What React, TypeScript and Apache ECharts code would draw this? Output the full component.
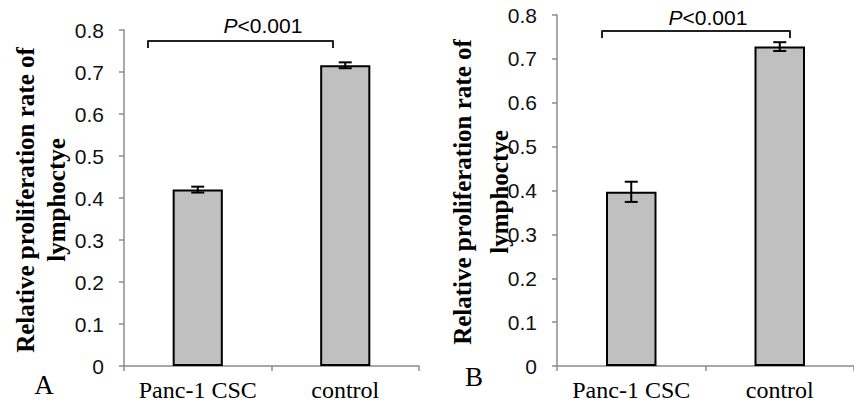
import React, { useEffect, useRef } from 'react';
import * as echarts from 'echarts';

const categories = ['Panc-1 CSC', 'control'];
const valuesA = [0.42, 0.716];
const errorsA = [0.007, 0.007];
const valuesB = [0.397, 0.728];
const errorsB = [0.023, 0.01];
const yMin = 0;
const yMax = 0.8;
const yInterval = 0.1;
const pText = '<0.001';
const yTitleLines = ['Relative proliferation rate of', 'lymphoctye'];
const panelLabels = ['A', 'B'];

const SANS = '"Liberation Sans", Arial, sans-serif';
const SERIF = '"Liberation Serif", "Times New Roman", serif';
const AXIS_GRAY = '#8c8c8c';

const errorRender = (params: any, api: any) => {
  const i = api.value(0);
  const v = api.value(1);
  const e = api.value(2);
  const top = api.coord([i, v + e]);
  const bot = api.coord([i, v - e]);
  const hw = 6.5;
  const style = { stroke: '#000', lineWidth: 2 };
  return {
    type: 'group',
    children: [
      { type: 'line', shape: { x1: top[0], y1: top[1], x2: bot[0], y2: bot[1] }, style },
      { type: 'line', shape: { x1: top[0] - hw, y1: top[1], x2: top[0] + hw, y2: top[1] }, style },
      { type: 'line', shape: { x1: bot[0] - hw, y1: bot[1], x2: bot[0] + hw, y2: bot[1] }, style },
    ],
  };
};

const makeX = (gridIndex: number) => ({
  type: 'category',
  gridIndex,
  data: categories,
  boundaryGap: true,
  axisLine: { show: true, lineStyle: { color: AXIS_GRAY, width: 1.5 } },
  axisTick: { show: true, alignWithLabel: false, interval: 0, length: 5, lineStyle: { color: AXIS_GRAY, width: 1.5 } },
  axisLabel: { color: '#000', fontFamily: SERIF, fontSize: 24, margin: 12, interval: 0, hideOverlap: false },
  splitLine: { show: false },
});

const makeY = (gridIndex: number) => ({
  type: 'value',
  gridIndex,
  min: yMin,
  max: yMax,
  interval: yInterval,
  axisLine: { show: true, lineStyle: { color: AXIS_GRAY, width: 1.5 } },
  axisTick: { show: true, length: 5, lineStyle: { color: AXIS_GRAY, width: 1.5 } },
  axisLabel: { color: '#111', fontFamily: SANS, fontSize: 21, margin: 20 },
  splitLine: { show: false },
});

const barSeries = (idx: number, values: number[]) => ({
  type: 'bar',
  xAxisIndex: idx,
  yAxisIndex: idx,
  data: values,
  barWidth: '34%',
  itemStyle: { color: '#c0c0c0', borderColor: '#000', borderWidth: 2 },
  z: 2,
});

const errSeries = (idx: number, values: number[], errs: number[]) => ({
  type: 'custom',
  xAxisIndex: idx,
  yAxisIndex: idx,
  data: values.map((v, i) => [i, v, errs[i]]),
  encode: { x: 0, y: 1 },
  renderItem: errorRender,
  z: 5,
});

const bracket = (x1: number, x2: number, y: number, drop: number) => ({
  type: 'polyline',
  shape: { points: [[x1, y + drop], [x1, y], [x2, y], [x2, y + drop]] },
  style: { stroke: '#222', lineWidth: 2, fill: null, lineJoin: 'round' },
});

const pLabel = (x: number, y: number) => ({
  type: 'text',
  x,
  y,
  style: {
    text: '{i|P}' + pText,
    align: 'center',
    verticalAlign: 'middle',
    fontFamily: SANS,
    fontSize: 21,
    fill: '#000',
    rich: { i: { fontStyle: 'italic', fontFamily: SANS, fontSize: 21, fill: '#000' } },
  },
});

const yTitle = (x: number, y: number, lineHeight: number) => ({
  type: 'text',
  x,
  y,
  rotation: Math.PI / 2,
  style: {
    text: yTitleLines.join('\n'),
    align: 'center',
    verticalAlign: 'middle',
    fontFamily: SERIF,
    fontWeight: 'bold',
    fontSize: 25,
    lineHeight,
    fill: '#000',
  },
});

const panelText = (text: string, x: number, y: number) => ({
  type: 'text',
  x,
  y,
  style: {
    text,
    align: 'center',
    verticalAlign: 'middle',
    fontFamily: SERIF,
    fontSize: 27,
    fill: '#000',
  },
});

export default function App() {
  const ref = useRef<HTMLDivElement>(null);
  useEffect(() => {
    if (!ref.current) return;
    const chart = echarts.init(ref.current, null, { renderer: 'svg' });
    chart.setOption({
      animation: false,
      backgroundColor: '#fff',
      grid: [
        { left: 124, top: 30, width: 295, height: 336 },
        { left: 557, top: 15, width: 304, height: 351 },
      ],
      xAxis: [makeX(0), makeX(1)],
      yAxis: [makeY(0), makeY(1)],
      series: [
        barSeries(0, valuesA),
        errSeries(0, valuesA, errorsA),
        barSeries(1, valuesB),
        errSeries(1, valuesB, errorsB),
      ],
      graphic: [
        bracket(148, 333, 41, 7),
        bracket(602, 790, 31, 7),
        pLabel(263, 25),
        pLabel(708, 17),
        yTitle(41, 200, 31),
        yTitle(481, 192, 37),
        panelText(panelLabels[0], 44, 385),
        panelText(panelLabels[1], 474, 377),
      ],
    });
    return () => chart.dispose();
  }, []);
  return (
    <div
      ref={ref}
      style={{ position: 'fixed', left: 0, top: 0, width: 854, height: 406, background: '#fff' }}
    />
  );
}
